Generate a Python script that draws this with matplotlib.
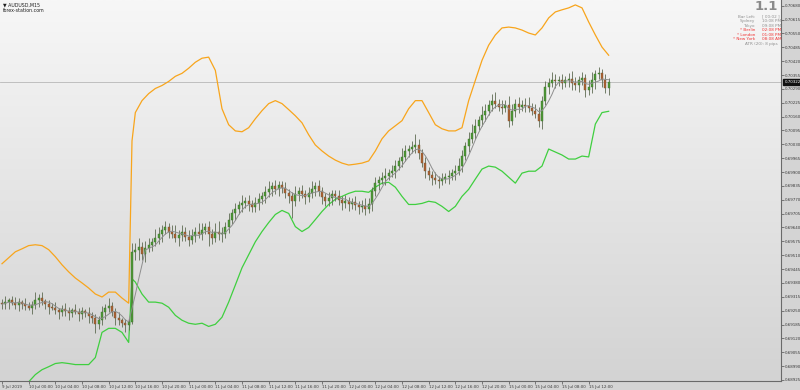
import numpy as np
import pandas as pd
import matplotlib
matplotlib.use("Agg")
import matplotlib.pyplot as plt
from matplotlib.colors import LinearSegmentedColormap

# ---------------- data (AUDUSD, half-hour bars from 9 Jul 20:00) ----------------
first_open = 0.69285
closes = [
    0.69280, 0.69290, 0.69299, 0.69285, 0.69276, 0.69290, 0.69280, 0.69271, 0.69262, 0.69276,
    0.69299, 0.69309, 0.69295, 0.69280, 0.69266, 0.69262, 0.69252, 0.69243, 0.69257, 0.69247,
    0.69238, 0.69252, 0.69243, 0.69233, 0.69247, 0.69238, 0.69224, 0.69214, 0.69186, 0.69205,
    0.69243, 0.69262, 0.69271, 0.69243, 0.69214, 0.69205, 0.69191, 0.69181, 0.69196, 0.69526,
    0.69536, 0.69550, 0.69517, 0.69545, 0.69559, 0.69573, 0.69592, 0.69611, 0.69630, 0.69640,
    0.69621, 0.69611, 0.69592, 0.69606, 0.69621, 0.69597, 0.69583, 0.69602, 0.69621, 0.69611,
    0.69630, 0.69640, 0.69611, 0.69592, 0.69621, 0.69611, 0.69611, 0.69644, 0.69677, 0.69706,
    0.69725, 0.69744, 0.69753, 0.69763, 0.69748, 0.69734, 0.69753, 0.69772, 0.69786, 0.69805,
    0.69819, 0.69834, 0.69819, 0.69838, 0.69824, 0.69800, 0.69786, 0.69763, 0.69796, 0.69810,
    0.69796, 0.69781, 0.69800, 0.69819, 0.69834, 0.69810, 0.69781, 0.69763, 0.69777, 0.69796,
    0.69786, 0.69767, 0.69753, 0.69763, 0.69748, 0.69758, 0.69744, 0.69734, 0.69739, 0.69729,
    0.69748, 0.69810, 0.69848, 0.69862, 0.69871, 0.69881, 0.69895, 0.69904, 0.69928, 0.69952,
    0.69971, 0.69999, 0.70008, 0.70018, 0.70027, 0.69990, 0.69942, 0.69904, 0.69885, 0.69871,
    0.69862, 0.69857, 0.69867, 0.69876, 0.69881, 0.69895, 0.69904, 0.69928, 0.69975, 0.70023,
    0.70056, 0.70084, 0.70117, 0.70145, 0.70169, 0.70188, 0.70216, 0.70235, 0.70221, 0.70207,
    0.70202, 0.70216, 0.70141, 0.70188, 0.70221, 0.70207, 0.70216, 0.70212, 0.70202, 0.70188,
    0.70174, 0.70141, 0.70235, 0.70297, 0.70320, 0.70330, 0.70325, 0.70330, 0.70320, 0.70330,
    0.70335, 0.70316, 0.70306, 0.70330, 0.70339, 0.70283, 0.70301, 0.70330, 0.70358, 0.70363,
    0.70330, 0.70292, 0.70322,
]
wick_up_pips = [
    2,3,1,2,3,2,1,3,2,2, 4,2,3,1,2,2,3,1,2,3, 2,1,3,2,2,1,3,2,2,2, 3,2,4,2,2,3,1,2,2,4,
    3,4,2,3,3,2,4,3,2,3, 2,3,4,2,3,2,3,3,2,4, 3,2,3,2,4,5,3,2,3,2, 3,2,4,2,3,2,3,3,2,3,
    4,2,3,2,2,3,2,2,4,2, 3,2,3,4,2,3,2,2,3,2, 2,3,2,3,2,2,3,2,3,4, 3,2,3,2,3,4,2,3,3,2,
    4,3,2,3,5,3,2,3,2,2, 3,2,3,2,3,2,3,4,3,2, 3,4,3,2,4,3,2,3,4,2, 3,2,4,3,2,3,2,3,4,2,
    3,3,2,3,2,4,3,2,3,2, 3,4,3,2,3,2,3,4,2,3, 2,3,2,
]
wick_dn_pips = [
    2,2,3,1,2,3,2,2,1,3, 2,3,2,2,3,1,2,3,2,2, 3,2,1,3,2,2,3,2,4,2, 2,3,2,2,3,2,2,3,2,1,
    4,5,3,4,2,3,2,3,4,2, 3,2,2,4,3,2,3,2,3,2, 3,2,6,3,2,3,4,2,3,2, 3,2,3,2,3,2,2,3,2,3,
    2,3,2,3,2,2,3,8,2,3, 2,3,2,2,3,2,3,2,2,3, 2,2,3,2,3,2,2,3,2,3, 2,3,2,3,2,3,2,2,3,2,
    3,2,3,2,3,3,2,3,2,3, 2,3,2,2,3,2,3,2,3,2, 3,2,3,2,3,3,2,3,2,2, 3,2,3,2,3,3,2,3,2,2,
    2,3,4,2,3,2,3,2,3,2, 3,3,2,3,2,3,2,3,4,2, 3,2,3,
]

band_bars = [0, 2, 4, 6, 8, 10, 12, 14, 16, 18, 20, 22, 24, 26, 28, 30, 32, 34, 36, 38, 39] + \
            list(range(40, 183, 2))
upper_band = [
    0.69470, 0.69498, 0.69526, 0.69540, 0.69555, 0.69559, 0.69555, 0.69536, 0.69503, 0.69465,
    0.69432, 0.69403, 0.69380, 0.69356, 0.69328, 0.69314, 0.69337, 0.69337, 0.69309, 0.69285,
    0.70046,
    0.70179, 0.70235, 0.70268, 0.70292, 0.70306, 0.70325, 0.70349, 0.70363, 0.70387, 0.70415,
    0.70434, 0.70439, 0.70377, 0.70197, 0.70122, 0.70093, 0.70089, 0.70108, 0.70150, 0.70188,
    0.70221, 0.70235, 0.70221, 0.70193, 0.70164, 0.70131, 0.70075, 0.70027, 0.69999, 0.69975,
    0.69956, 0.69942, 0.69933, 0.69937, 0.69942, 0.69952, 0.69999, 0.70056, 0.70093, 0.70117,
    0.70141, 0.70197, 0.70235, 0.70235, 0.70179, 0.70122, 0.70103, 0.70093, 0.70093, 0.70108,
    0.70235, 0.70330, 0.70424, 0.70495, 0.70543, 0.70576, 0.70580, 0.70576, 0.70566, 0.70552,
    0.70543, 0.70576, 0.70623, 0.70651, 0.70661, 0.70670, 0.70684, 0.70670, 0.70604, 0.70543,
    0.70486, 0.70448,
]
lower_band = [
    0.68841, 0.68855, 0.68869, 0.68888, 0.68916, 0.68950, 0.68973, 0.68987, 0.69002, 0.69006,
    0.69002, 0.68997, 0.68997, 0.68997, 0.69030, 0.69148, 0.69167, 0.69167, 0.69148, 0.69101,
    0.69399,
    0.69384, 0.69328, 0.69290, 0.69290, 0.69285, 0.69266, 0.69228, 0.69205, 0.69191, 0.69186,
    0.69191, 0.69176, 0.69186, 0.69219, 0.69290, 0.69370, 0.69451, 0.69512, 0.69573, 0.69621,
    0.69663, 0.69701, 0.69720, 0.69706, 0.69644, 0.69621, 0.69640, 0.69677, 0.69715, 0.69748,
    0.69772, 0.69786, 0.69800, 0.69810, 0.69810, 0.69805, 0.69829, 0.69848, 0.69852, 0.69829,
    0.69786, 0.69748, 0.69748, 0.69753, 0.69763, 0.69758, 0.69739, 0.69715, 0.69739, 0.69786,
    0.69819, 0.69867, 0.69914, 0.69928, 0.69923, 0.69904, 0.69876, 0.69848, 0.69895, 0.69904,
    0.69904, 0.69928, 0.70008, 0.69994, 0.69980, 0.69961, 0.69961, 0.69975, 0.69971, 0.70125,
    0.70179, 0.70185,
]

x_tick_bars = list(range(0, 177, 8))
x_tick_labels = [
    "9 Jul 2019", "10 Jul 00:00", "10 Jul 04:00", "10 Jul 08:00", "10 Jul 12:00",
    "10 Jul 16:00", "10 Jul 20:00", "11 Jul 00:00", "11 Jul 04:00", "11 Jul 08:00",
    "11 Jul 12:00", "11 Jul 16:00", "11 Jul 20:00", "12 Jul 00:00", "12 Jul 04:00",
    "12 Jul 08:00", "12 Jul 12:00", "12 Jul 16:00", "12 Jul 20:00", "15 Jul 00:00",
    "15 Jul 04:00", "15 Jul 08:00", "15 Jul 12:00",
]
y_tick_values = [round(0.70680 - 0.00065 * k, 5) for k in range(28)]

# ---------------- figure ----------------
W, H = 800, 390
fig = plt.figure(figsize=(W / 100, H / 100), dpi=100, facecolor="#d4d4d4")
ax = fig.add_axes([0, 9 / H, 781 / W, 381 / H])
ax.set_facecolor("#e6e6e6")

grad = np.linspace(0, 1, 256).reshape(-1, 1)
cmap = LinearSegmentedColormap.from_list("bg", ["#f7f7f7", "#d3d3d3"])
ax.imshow(grad, extent=[0, 1, 0, 1], transform=ax.transAxes, aspect="auto",
          cmap=cmap, origin="upper", zorder=0)

closes_arr = np.array(closes)
opens_arr = np.concatenate([[first_open], closes_arr[:-1]])
highs = np.maximum(opens_arr, closes_arr) + np.array(wick_up_pips) / 10000.0
lows = np.minimum(opens_arr, closes_arr) - np.array(wick_dn_pips) / 10000.0
idx = np.arange(len(closes_arr))

# bands
ax.plot(band_bars, upper_band, color="#f8a51c", lw=0.9, zorder=3)
ax.plot(band_bars, lower_band, color="#3fcf3f", lw=0.9, zorder=3)

# candles
ax.vlines(idx, lows, highs, color="#5e6b52", lw=0.6, zorder=4)
up = closes_arr >= opens_arr
body_bottom = np.minimum(opens_arr, closes_arr)
body_h = np.maximum(np.abs(closes_arr - opens_arr), 0.000015)
ax.bar(idx[up], body_h[up], bottom=body_bottom[up], width=0.6,
       color="#4e9a37", edgecolor="#3d6e2c", linewidth=0.3, zorder=5)
ax.bar(idx[~up], body_h[~up], bottom=body_bottom[~up], width=0.6,
       color="#b0602f", edgecolor="#6e5a3a", linewidth=0.3, zorder=5)

# moving average overlay
ma = pd.Series(closes_arr).rolling(5, min_periods=1).mean()
ax.plot(idx, ma, color="#8e8e8e", lw=0.7, zorder=6)

# bid line
last = closes_arr[-1]
ax.axhline(last, color="#b8b8b8", lw=0.6, zorder=2)

# limits
ax.set_xlim(-0.6, 233.7)
ax.set_ylim(0.68920, 0.70707)

# axes styling
for s in ["top", "left"]:
    ax.spines[s].set_visible(False)
for s in ["right", "bottom"]:
    ax.spines[s].set_color("#6a6a6a")
    ax.spines[s].set_linewidth(0.8)

ax.yaxis.tick_right()
ax.set_yticks(y_tick_values)
ax.set_yticklabels([f"{v:.5f}" for v in y_tick_values])
ax.set_xticks(x_tick_bars)
ax.set_xticklabels(x_tick_labels)
for lab in ax.get_xticklabels():
    lab.set_horizontalalignment("left")
ax.tick_params(axis="both", direction="out", length=2, width=0.5, color="#505050",
               labelsize=2.9, labelcolor="#3a3a3a", pad=1)

# current price tag
ax.annotate(f"{last:.5f}", xy=(1.0, last), xycoords=("axes fraction", "data"),
            xytext=(2.5, 0), textcoords="offset points", va="center", ha="left",
            fontsize=2.9, color="white", annotation_clip=False,
            bbox=dict(boxstyle="square,pad=0.25", fc="#111111", ec="#111111"))

# texts
def px(x, y):
    return x / W, 1 - y / H

fig.text(*px(3, 5), "\u25bc AUDUSD,M15", fontsize=3.4, color="#202020", va="center", ha="left")
fig.text(*px(3, 11), "forex-station.com", fontsize=3.4, color="#202020", va="center", ha="left")

fig.text(*px(778, 7), "1.1", fontsize=9.5, color="#8a8a8a", va="center", ha="right",
         fontweight="bold")
rows = [
    ("Bar Left:", "[ 00:02 ]", "#909090"),
    ("Sydney", "10:08 PM", "#909090"),
    ("Tokyo", "09:08 PM", "#909090"),
    ("* Berlin", "02:08 PM", "#f03232"),
    ("* London", "01:08 PM", "#f03232"),
    ("* New York", "08:08 AM", "#f03232"),
]
for i, (lab, val, col) in enumerate(rows):
    yy = 16.5 + i * 4.6
    fig.text(*px(755, yy), lab, fontsize=3.0, color=col, va="center", ha="right")
    fig.text(*px(762, yy), val, fontsize=3.0, color=col, va="center", ha="left")
fig.text(*px(778, 16.5 + 6 * 4.6), "ATR (20): 8 pips", fontsize=3.0, color="#909090",
         va="center", ha="right")

fig.savefig("out.png", dpi=100, facecolor=fig.get_facecolor())
